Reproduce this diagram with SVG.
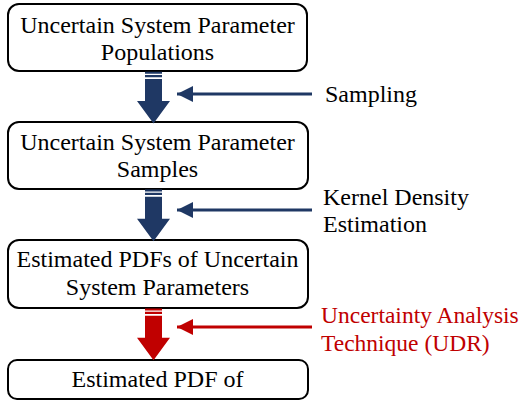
<svg xmlns="http://www.w3.org/2000/svg" width="522" height="401" viewBox="0 0 522 401">
  <style>
    .box { fill: #ffffff; stroke: #000000; stroke-width: 2; }
    .t { font-family: "Liberation Serif", "Times New Roman", "DejaVu Serif", serif; font-size: 24px; fill: #000000; }
    .mid { text-anchor: middle; }
    .red { fill: #C00000; font-size: 23.5px; }
    .navy-fill { fill: #1F3864; }
    .red-fill { fill: #C00000; }
    .navy-line { stroke: #1F3864; stroke-width: 3; fill: none; }
    .red-line { stroke: #C00000; stroke-width: 3; fill: none; }
  </style>
  <defs>
    <!-- striped block arrow pointing down, origin at top of stripes -->
    <path id="blockArrow" d="M145,0 h17 v2 h-17 z M145,3.3 h17 v2.3 h-17 z M145,7.3 h17 v22 h8 l-16.5,22.5 l-16.5,-22.5 h8 z"/>
    <!-- triangular heads for the side arrows, tip at the line end -->
    <marker id="headNavy" markerUnits="userSpaceOnUse" markerWidth="16" markerHeight="16" refX="16" refY="8" orient="auto">
      <path d="M0,0 L16,8 L0,16 z" fill="#1F3864"/>
    </marker>
    <marker id="headRed" markerUnits="userSpaceOnUse" markerWidth="16" markerHeight="16" refX="16" refY="8" orient="auto">
      <path d="M0,0 L16,8 L0,16 z" fill="#C00000"/>
    </marker>
  </defs>

  <!-- process boxes -->
  <g id="node-populations">
    <rect class="box" x="8" y="4" width="299" height="67" rx="11"/>
    <text class="t mid" x="157.5" y="33">Uncertain System Parameter</text>
    <text class="t mid" x="157.5" y="60">Populations</text>
  </g>
  <g id="node-samples">
    <rect class="box" x="8" y="122" width="300" height="67" rx="11"/>
    <text class="t mid" x="157.5" y="150">Uncertain System Parameter</text>
    <text class="t mid" x="157.5" y="177">Samples</text>
  </g>
  <g id="node-estimated-pdfs">
    <rect class="box" x="8" y="240" width="300" height="68" rx="11"/>
    <text class="t mid" x="157.5" y="267">Estimated PDFs of Uncertain</text>
    <text class="t mid" x="157.5" y="295">System Parameters</text>
  </g>
  <g id="node-estimated-pdf">
    <rect class="box" x="8" y="360" width="300" height="39" rx="9"/>
    <text class="t mid" x="157.5" y="387">Estimated PDF of</text>
  </g>

  <!-- step labels -->
  <g id="label-sampling">
    <text class="t" x="325" y="102">Sampling</text>
  </g>
  <g id="label-kde">
    <text class="t" x="323" y="205">Kernel Density</text>
    <text class="t" x="323" y="232">Estimation</text>
  </g>
  <g id="label-udr">
    <text class="t red" x="321" y="323">Uncertainty Analysis</text>
    <text class="t red" x="321" y="351">Technique (UDR)</text>
  </g>

  <!-- connectors -->
  <g id="connectors">
    <use href="#blockArrow" class="navy-fill" transform="translate(0,71.7)"/>
    <use href="#blockArrow" class="navy-fill" transform="translate(0,189.5)"/>
    <use href="#blockArrow" class="red-fill" transform="translate(0,308.5)"/>
    <line class="navy-line" x1="312" y1="94" x2="177" y2="94" marker-end="url(#headNavy)"/>
    <line class="navy-line" x1="312" y1="210" x2="177" y2="210" marker-end="url(#headNavy)"/>
    <line class="red-line" x1="312" y1="327" x2="177" y2="327" marker-end="url(#headRed)"/>
  </g>
</svg>
